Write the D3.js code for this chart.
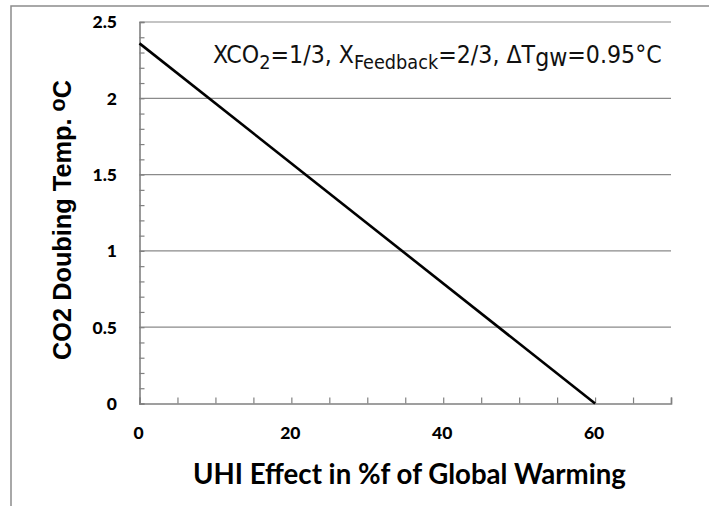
<!DOCTYPE html>
<html><head><meta charset="utf-8">
<script src="https://cdn.jsdelivr.net/npm/d3@7"></script>
<style>
html,body{margin:0;padding:0;background:#fff;}
svg{display:block;}
</style></head>
<body>
<script>
// ---- data ----
const uhiPercent = [0, 60];          // x: UHI effect in % of global warming
const doublingTemp = [2.36, 0];      // y: CO2 doubling temperature (°C)
const xTicksMajor = [0, 20, 40, 60];
const yTicksMajor = [0, 0.5, 1, 1.5, 2, 2.5];
const xLabel = "UHI Effect in %f of Global Warming";
const yLabel = "CO2 Doubing Temp. ";

const W = 709, H = 506;
const svg = d3.select("body").append("svg").attr("width", W).attr("height", H);

const pLeft = 139.5, pRight = 671, pTop = 22, pBottom = 403.5;
const x = d3.scaleLinear().domain([0, 70]).range([pLeft, pRight]);
const y = d3.scaleLinear().domain([0, 2.5]).range([pBottom, pTop]);

// outer frame
svg.append("path").attr("d", `M11,${H} L11,6 L${W},6`)
  .attr("fill", "none").attr("stroke", "#8c8c8c").attr("stroke-width", 1.5);

// gridlines
svg.append("g").selectAll("line").data(yTicksMajor.filter(d => d > 0)).join("line")
  .attr("x1", pLeft).attr("x2", pRight)
  .attr("y1", d => y(d)).attr("y2", d => y(d))
  .attr("stroke", "#8a8a8a").attr("stroke-width", 1.2);

// y axis with inward minor ticks
const yAxis = d3.axisRight(y).tickValues(d3.range(0, 2.5001, 0.1)).tickSize(5).tickFormat("");
const gy = svg.append("g").attr("transform", `translate(${pLeft},0)`).call(yAxis);
gy.select(".domain").attr("stroke", "#808080").attr("stroke-width", 1.6);
gy.selectAll(".tick line").attr("stroke", "#808080").attr("stroke-width", 1.2);

// x axis with inward ticks
const xAxis = d3.axisTop(x).tickValues(d3.range(0, 70.001, 5)).tickSize(6).tickFormat("");
const gx = svg.append("g").attr("transform", `translate(0,${pBottom})`).call(xAxis);
gx.select(".domain").attr("stroke", "#808080").attr("stroke-width", 1.6);
gx.selectAll(".tick line").attr("stroke", "#808080").attr("stroke-width", 1.2);

// tick labels
svg.append("g").selectAll("text").data(yTicksMajor).join("text")
  .attr("x", 117).attr("y", d => y(d)).attr("dy", "0.36em")
  .attr("text-anchor", "end")
  .attr("font-family", "Lato, 'Open Sans', sans-serif").attr("font-weight", 900)
  .attr("font-size", 17.5).attr("fill", "#000")
  .text(d => d3.format("~g")(d));

svg.append("g").selectAll("text").data(xTicksMajor).join("text")
  .attr("x", d => x(d) - 1).attr("y", 439)
  .attr("text-anchor", "middle")
  .attr("font-family", "Lato, 'Open Sans', sans-serif").attr("font-weight", 900)
  .attr("font-size", 17.5).attr("fill", "#000")
  .text(d => d);

// fit helper
function fit(sel, target) {
  const w = sel.node().getComputedTextLength();
  const fs = parseFloat(sel.attr("font-size"));
  sel.attr("font-size", fs * target / w);
}

// x title
const xt = svg.append("text").attr("x", 409.5).attr("y", 484)
  .attr("text-anchor", "middle")
  .attr("font-family", "Lato, 'Open Sans', sans-serif").attr("font-weight", "bold")
  .attr("font-size", 22).attr("fill", "#000").text(xLabel);
fit(xt, 433);

// y title
const yt = svg.append("text").attr("transform", "translate(71,220) rotate(-90)")
  .attr("text-anchor", "middle")
  .attr("font-family", "'Liberation Sans', Arial, sans-serif").attr("font-weight", "bold")
  .attr("font-size", 23).attr("fill", "#000");
yt.append("tspan").text(yLabel);
yt.append("tspan").attr("dy", -6).attr("font-size", "0.85em").text("o");
yt.append("tspan").attr("dy", 6).text("C");
fit(yt, 280);

// annotation
const ann = svg.append("text").attr("x", 213).attr("y", 63)
  .attr("font-family", "'DejaVu Sans Condensed', 'DejaVu Sans', Verdana, sans-serif")
  .attr("font-stretch", "condensed")
  .attr("font-size", 20).attr("fill", "#111");
ann.append("tspan").text("XCO");
ann.append("tspan").attr("dy", 6).attr("font-size", "0.8em").text("2");
ann.append("tspan").attr("dy", -6).text("=1/3,  X");
ann.append("tspan").attr("dy", 6).attr("font-size", "0.8em").text("Feedback");
ann.append("tspan").attr("dy", -6).text("=2/3, ΔT");
ann.append("tspan").attr("dy", 3).text("gw");
ann.append("tspan").attr("dy", -3).text("=0.95°C");
fit(ann, 449);

// line
const pts = uhiPercent.map((d, i) => [d, doublingTemp[i]]);
svg.append("path").datum(pts)
  .attr("d", d3.line().x(d => x(d[0])).y(d => y(d[1])))
  .attr("fill", "none").attr("stroke", "#000").attr("stroke-width", 2.6);
</script>
</body></html>
